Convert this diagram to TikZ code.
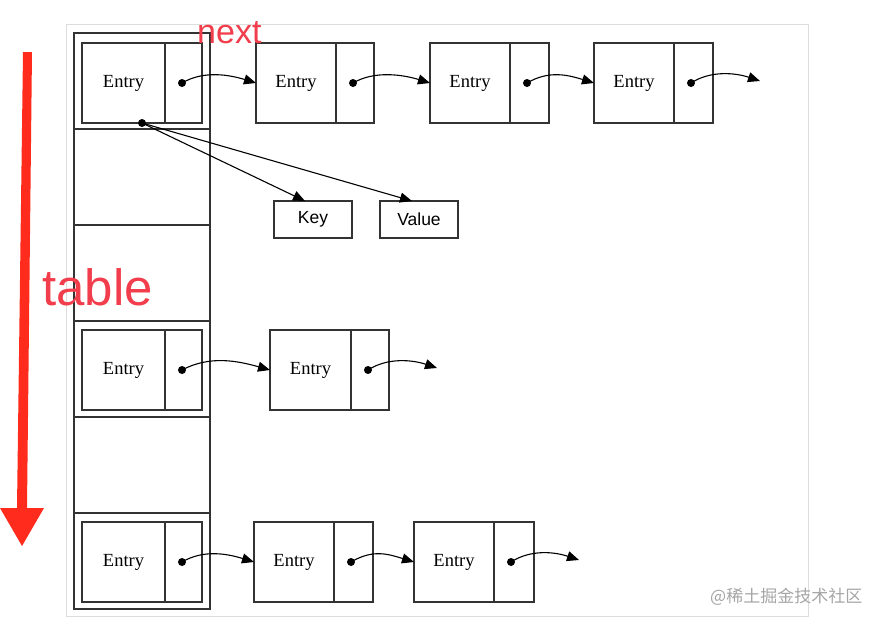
\documentclass[tikz,border=0pt]{standalone}
\usepackage{fontspec}
\setmainfont{Liberation Serif}
\newfontfamily\sansf{Liberation Sans}
\newfontfamily\cjk{Noto Sans CJK SC}
\usetikzlibrary{arrows.meta,calc}
\definecolor{boxc}{HTML}{333333}
\definecolor{framec}{HTML}{DDDDDD}
\definecolor{redtxt}{HTML}{F23D4C}
\definecolor{redarrow}{HTML}{FF2B1C}
\definecolor{wmc}{HTML}{A6A6A6}
\tikzset{
  cellbox/.style={draw=boxc, line width=1.4pt, inner sep=0pt, outer sep=0pt, anchor=north west},
  lcell/.style={cellbox, minimum height=80, font=\fontsize{18.5}{20}\selectfont},
  rcell/.style={cellbox, minimum height=80},
  tcell/.style={cellbox, minimum width=136, minimum height=96},
  kvbox/.style={cellbox, minimum width=78, minimum height=37, font=\sansf\fontsize{17.5}{20}\selectfont},
  ptdot/.style={circle, fill=black, minimum size=8, inner sep=0pt},
  link/.style={draw=black, line width=1.1pt, -{Triangle[length=12pt,width=10pt]}}
}
\newcommand\entrynode[5]{% name, xLeft, xDivider, xRight, yTop
  \node[lcell, minimum width={#3-#2}] (#1L) at (#2,#5) {\raisebox{-3pt}{Entry}};
  \node[rcell, minimum width={#4-#3}] (#1R) at (#3,#5) {};
  \node[ptdot] (#1d) at ($(#1R.west)+(17,0)$) {};
}
\begin{document}
\begin{tikzpicture}[x=1pt,y=-1pt]
\useasboundingbox (0,0) rectangle (889,624);
\fill[white] (0,0) rectangle (889,624);
\node[draw=framec, line width=1pt, minimum width=742, minimum height=592, anchor=north west, inner sep=0pt] (frame) at (66,24) {};

% table column
\foreach \i in {0,...,5} {
  \node[tcell] (row\i) at (74,{33+96*\i}) {};
}

% row 1
\entrynode{a1}{82}{165}{202}{43}
\entrynode{a2}{256}{336}{374}{43}
\entrynode{a3}{430}{510}{549}{43}
\entrynode{a4}{594}{674}{713}{43}
\coordinate (a5) at (760,81);
\draw[link] (a1d.center) .. controls +(22,-13) and +(-26,-8) .. (a2L.west);
\draw[link] (a2d.center) .. controls +(22,-13) and +(-26,-8) .. (a3L.west);
\draw[link] (a3d.center) .. controls +(22,-13) and +(-26,-8) .. (a4L.west);
\draw[link] (a4d.center) .. controls +(20,-13) and +(-24,-8) .. (a5);

% key / value
\node[ptdot] (src) at ($(a1L.south west)+(60,0)$) {};
\node[kvbox] (key) at (274,201) {Key};
\node[kvbox] (val) at (380,201) {Value};
\coordinate (keyin) at ($(key.north)+(-8,0)$);
\coordinate (valin) at ($(val.north)+(-7,0)$);
\draw[link] (src.center) -- (keyin);
\draw[link] (src.center) -- (valin);

% row 4
\entrynode{b1}{82}{165}{202}{330}
\entrynode{b2}{270}{351}{389}{330}
\coordinate (b3) at (437,368);
\draw[link] (b1d.center) .. controls +(28,-15) and +(-32,-9) .. (b2L.west);
\draw[link] (b2d.center) .. controls +(20,-13) and +(-24,-8) .. (b3);

% row 6
\entrynode{c1}{82}{165}{202}{522}
\entrynode{c2}{254}{334}{373}{522}
\entrynode{c3}{414}{494}{534}{522}
\coordinate (c4) at (579,560);
\draw[link] (c1d.center) .. controls +(22,-13) and +(-26,-8) .. (c2L.west);
\draw[link] (c2d.center) .. controls +(22,-13) and +(-26,-8) .. (c3L.west);
\draw[link] (c3d.center) .. controls +(20,-13) and +(-24,-8) .. (c4);

% red annotations
\node[anchor=base west, inner sep=0pt, text=redtxt, font=\sansf\fontsize{34}{36}\selectfont] (nextlbl) at (197,43) {next};
\node[anchor=base west, inner sep=0pt, text=redtxt, font=\sansf\fontsize{51}{54}\selectfont] (tablelbl) at (42,305) {table};
\fill[redarrow] (23,52) -- (32,52) -- (27,508) -- (44,508) -- (22,546) -- (0,508) -- (17,508) -- cycle;

% watermark
\node[anchor=base west, inner sep=0pt, text=wmc, font=\cjk\fontsize{17}{20}\selectfont] (wm) at (710,602) {@稀土掘金技术社区};
\end{tikzpicture}
\end{document}
